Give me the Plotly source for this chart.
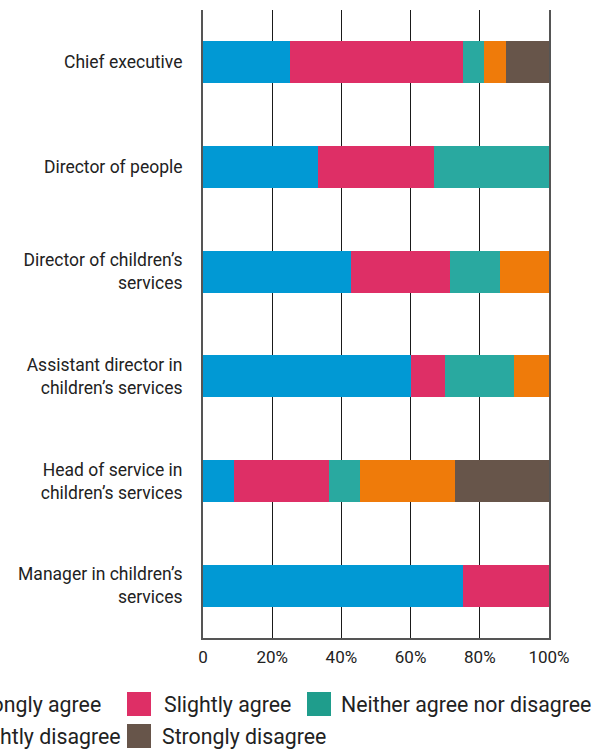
import plotly.graph_objects as go

categories = [
    "Chief executive",
    "Director of people",
    "Director of children’s<br>services",
    "Assistant director in<br>children’s services",
    "Head of service in<br>children’s services",
    "Manager in children’s<br>services",
]
series_names = [
    "Strongly agree",
    "Slightly agree",
    "Neither agree nor disagree",
    "Slightly disagree",
    "Strongly disagree",
]
strongly_agree = [25.0, 33.33, 42.86, 60.0, 9.09, 75.0]
slightly_agree = [50.0, 33.33, 28.57, 10.0, 27.27, 25.0]
neither = [6.25, 33.34, 14.29, 20.0, 9.09, 0.0]
slightly_disagree = [6.25, 0.0, 14.28, 10.0, 27.27, 0.0]
strongly_disagree = [12.5, 0.0, 0.0, 0.0, 27.28, 0.0]
series_values = [strongly_agree, slightly_agree, neither, slightly_disagree, strongly_disagree]
colors = ["#0199D4", "#DE2F66", "#29A9A0", "#EF7B0A", "#67554A"]
legend_colors = ["#0199D4", "#DE2F66", "#1F9D8C", "#EF7B0A", "#67554A"]
tick_vals = [0, 20, 40, 60, 80, 100]
tick_text = ["0", "20%", "40%", "60%", "80%", "100%"]

FONT = "Roboto, 'DejaVu Sans', sans-serif"
W, H = 595, 749
L, R, T, B = 203, 46, 10, 111
PW, PH = W - L - R, H - T - B

fig = go.Figure()
for name, vals, col in zip(series_names, series_values, colors):
    fig.add_trace(go.Bar(
        y=categories, x=vals, name=name, orientation="h",
        marker=dict(color=col, line=dict(width=0)),
        width=0.4, showlegend=False, hoverinfo="x+y+name",
    ))

# manual legend (large square swatches)
def px2x(px):
    return (px - L) / PW

def py2y(py):
    return (H - B - py) / PH

legend_layout = [
    # (swatch_left_px, row_center_px)
    (-71, 704), (127, 704), (307, 704),
    (-71, 736), (127, 736),
]
text_offset = [34, 35, 32, 34, 33]
shapes = []
annotations = []
for i, (name, col) in enumerate(zip(series_names, legend_colors)):
    sx, cy = legend_layout[i]
    shapes.append(dict(
        type="rect", xref="paper", yref="paper",
        x0=px2x(sx), x1=px2x(sx + 24), y0=py2y(cy - 12), y1=py2y(cy + 12),
        fillcolor=col, line=dict(width=0), layer="above",
    ))
    annotations.append(dict(
        xref="paper", yref="paper", x=px2x(sx + text_offset[i]), y=py2y(cy),
        xanchor="left", yanchor="middle", text=name, showarrow=False,
        font=dict(family=FONT, size=21.3, color="#222222"),
    ))

fig.update_layout(
    width=W, height=H,
    margin=dict(l=L, r=R, t=T, b=B, pad=0, autoexpand=False),
    barmode="stack", bargap=0.6,
    plot_bgcolor="white", paper_bgcolor="white",
    font=dict(family=FONT, size=17, color="#222222"),
    showlegend=False,
    shapes=shapes, annotations=annotations,
    xaxis=dict(
        range=[0, 100], tickvals=tick_vals, ticktext=tick_text,
        showgrid=True, gridcolor="#1a1a1a", gridwidth=1,
        showline=True, linecolor="#555555", linewidth=2,
        ticks="", zeroline=False, ticklabelstandoff=3,
        tickfont=dict(family=FONT, size=17, color="#222222"),
        fixedrange=True,
    ),
    yaxis=dict(
        autorange="reversed", showgrid=False,
        showline=True, linecolor="#555555", linewidth=2, mirror=True,
        ticks="", ticklabelstandoff=15,
        tickfont=dict(family=FONT, size=17.5, color="#222222"),
        fixedrange=True,
    ),
)

fig.write_html("out.html")
